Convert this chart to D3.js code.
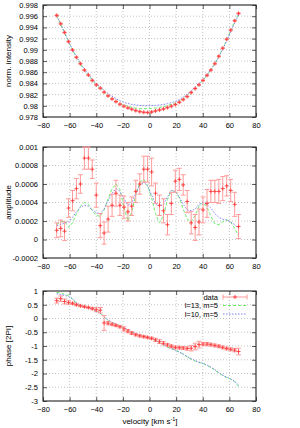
<!DOCTYPE html>
<html><head><meta charset="utf-8">
<script src="https://cdn.jsdelivr.net/npm/d3@7"></script>
<style>body{margin:0;background:#fff}svg{display:block}text{font-family:"Liberation Sans",Arial,sans-serif;fill:#000}</style>
</head><body><svg id="c" width="300" height="428"></svg>
<script>
const velocity = [-69.7,-66.7,-63.8,-60.8,-57.8,-54.9,-51.9,-48.9,-45.9,-43.0,-40.0,-37.0,-34.1,-31.1,-28.1,-25.2,-22.2,-19.2,-16.2,-13.3,-10.3,-7.3,-4.3,-1.4,1.6,4.5,7.5,10.5,13.5,16.4,19.4,22.4,25.3,28.3,31.3,34.3,37.2,40.2,43.2,46.1,49.1,52.1,55.0,58.0,61.0,64.0,66.9];

const intensity = [0.99614,0.99465,0.99309,0.99147,0.98998,0.98866,0.98752,0.98638,0.98549,0.98453,0.98375,0.98315,0.98243,0.98177,0.98123,0.98075,0.98028,0.97992,0.97962,0.97938,0.97914,0.97896,0.97884,0.97880,0.97890,0.97908,0.97926,0.97944,0.97968,0.97992,0.98022,0.98063,0.98111,0.98165,0.98237,0.98309,0.98375,0.98453,0.98543,0.98638,0.98752,0.98884,0.99028,0.99189,0.99351,0.99519,0.99650];
const intensityErr = [0.00012,0.00012,0.00012,0.00012,0.00011,0.00011,0.00011,0.00011,0.00011,0.00011,0.00010,0.00010,0.00010,0.00010,0.00010,0.00010,0.00010,0.00010,0.00010,0.00010,0.00010,0.00010,0.00010,0.00010,0.00010,0.00010,0.00010,0.00010,0.00010,0.00010,0.00010,0.00010,0.00010,0.00010,0.00010,0.00010,0.00011,0.00011,0.00011,0.00011,0.00011,0.00011,0.00011,0.00012,0.00012,0.00012,0.00012];
const intensityL13 = [0.99610,0.99460,0.99305,0.99150,0.99000,0.98865,0.98750,0.98640,0.98550,0.98455,0.98378,0.98318,0.98248,0.98185,0.98133,0.98088,0.98045,0.98015,0.97990,0.97972,0.97958,0.97950,0.97948,0.97948,0.97952,0.97960,0.97970,0.97985,0.98003,0.98025,0.98050,0.98085,0.98128,0.98178,0.98245,0.98313,0.98378,0.98455,0.98545,0.98640,0.98752,0.98880,0.99020,0.99180,0.99340,0.99505,0.99640];
const intensityL10 = [0.99610,0.99460,0.99305,0.99148,0.99002,0.98872,0.98762,0.98652,0.98565,0.98473,0.98398,0.98343,0.98278,0.98220,0.98172,0.98128,0.98088,0.98060,0.98040,0.98025,0.98015,0.98008,0.98004,0.98002,0.98003,0.98007,0.98014,0.98024,0.98038,0.98056,0.98080,0.98112,0.98155,0.98205,0.98270,0.98335,0.98398,0.98470,0.98555,0.98645,0.98752,0.98875,0.99010,0.99160,0.99320,0.99485,0.99620];

const amplitude = [0.00010,0.00012,0.00009,0.00034,0.00042,0.00055,0.00060,0.00088,0.00088,0.00076,0.00048,0.00015,0.00007,0.00022,0.00037,0.00050,0.00037,0.00035,0.00030,0.00036,0.00052,0.00060,0.00076,0.00076,0.00073,0.00050,0.00037,0.00031,0.00016,0.00039,0.00063,0.00065,0.00059,0.00041,0.00018,0.00013,0.00019,0.00032,0.00039,0.00052,0.00052,0.00052,0.00055,0.00058,0.00053,0.00038,0.00014];
const amplitudeErr = [0.00008,0.00009,0.00010,0.00010,0.00011,0.00011,0.00010,0.00012,0.00012,0.00010,0.00013,0.00013,0.00012,0.00014,0.00012,0.00014,0.00011,0.00012,0.00010,0.00010,0.00012,0.00011,0.00014,0.00014,0.00015,0.00011,0.00011,0.00013,0.00011,0.00012,0.00012,0.00012,0.00011,0.00012,0.00012,0.00014,0.00014,0.00014,0.00015,0.00012,0.00012,0.00013,0.00013,0.00011,0.00012,0.00013,0.00013];
const amplitudeL13 = [0.00016,0.00019,0.00020,0.00013,0.00018,0.00028,0.00036,0.00040,0.00038,0.00031,0.00026,0.00025,0.00032,0.00044,0.00055,0.00060,0.00054,0.00035,0.00020,0.00030,0.00048,0.00062,0.00065,0.00058,0.00045,0.00028,0.00018,0.00026,0.00043,0.00053,0.00052,0.00045,0.00033,0.00022,0.00019,0.00026,0.00036,0.00040,0.00035,0.00025,0.00017,0.00016,0.00019,0.00021,0.00019,0.00012,0.00004];
const amplitudeL10 = [0.00015,0.00016,0.00018,0.00019,0.00024,0.00030,0.00035,0.00037,0.00036,0.00032,0.00029,0.00028,0.00033,0.00042,0.00050,0.00055,0.00052,0.00044,0.00037,0.00039,0.00050,0.00059,0.00062,0.00058,0.00048,0.00039,0.00036,0.00038,0.00046,0.00053,0.00052,0.00046,0.00038,0.00032,0.00031,0.00033,0.00038,0.00040,0.00038,0.00034,0.00028,0.00024,0.00022,0.00021,0.00019,0.00016,0.00012];

const phase = [0.65,0.72,0.62,0.58,0.55,0.50,0.46,0.43,0.40,0.36,0.32,0.30,-0.16,-0.17,-0.21,-0.25,-0.30,-0.38,-0.46,-0.53,-0.59,-0.63,-0.66,-0.69,-0.72,-0.78,-0.84,-0.90,-0.96,-1.01,-1.05,-1.06,-1.07,-1.09,-1.08,-1.02,-0.95,-0.93,-0.93,-0.95,-0.98,-1.01,-1.05,-1.09,-1.12,-1.15,-1.20];
const phaseErr = [0.09,0.10,0.09,0.06,0.04,0.03,0.03,0.03,0.03,0.04,0.07,0.10,0.27,0.06,0.04,0.04,0.04,0.08,0.06,0.05,0.04,0.04,0.04,0.04,0.04,0.06,0.07,0.06,0.05,0.05,0.05,0.05,0.05,0.06,0.10,0.12,0.12,0.06,0.06,0.05,0.05,0.05,0.05,0.05,0.05,0.06,0.12];
const phaseL13 = [0.95,0.92,0.88,0.84,0.70,0.54,0.47,0.43,0.39,0.34,0.28,0.20,0.05,-0.08,-0.15,-0.21,-0.27,-0.34,-0.42,-0.50,-0.56,-0.61,-0.65,-0.69,-0.74,-0.80,-0.88,-0.96,-1.04,-1.10,-1.15,-1.22,-1.30,-1.40,-1.48,-1.55,-1.60,-1.64,-1.70,-1.78,-1.88,-1.98,-2.08,-2.15,-2.20,-2.30,-2.47];
const phaseL10 = [0.90,0.87,0.84,0.80,0.72,0.58,0.48,0.43,0.39,0.34,0.28,0.19,0.06,-0.06,-0.14,-0.20,-0.26,-0.33,-0.41,-0.48,-0.55,-0.60,-0.64,-0.68,-0.73,-0.80,-0.87,-0.95,-1.03,-1.09,-1.15,-1.22,-1.29,-1.38,-1.46,-1.53,-1.59,-1.63,-1.69,-1.77,-1.86,-1.97,-2.06,-2.13,-2.20,-2.29,-2.42];

const xTicks = [-80,-60,-40,-20,0,20,40,60,80];
const intensityTicks = [0.978,0.980,0.982,0.984,0.986,0.988,0.990,0.992,0.994,0.996,0.998];
const intensityTickLabels = ["0.978","0.98","0.982","0.984","0.986","0.988","0.99","0.992","0.994","0.996","0.998"];
const amplitudeTicks = [-0.0002,0,0.0002,0.0004,0.0006,0.0008,0.001];
const amplitudeTickLabels = ["-0.0002","0","0.0002","0.0004","0.0006","0.0008","0.001"];
const phaseTicks = [-3,-2.5,-2,-1.5,-1,-0.5,0,0.5,1];
const phaseTickLabels = ["-3","-2.5","-2","-1.5","-1","-0.5","0","0.5","1"];
const seriesNames = ["data","l=13, m=5","l=10, m=5"];

const svg = d3.select("#c");
const L = 43, R = 256;
const x = d3.scaleLinear().domain([-80, 80]).range([L, R]);
const C_ERR = "#ff9a9a", C_PT = "#ff3b3b", C_G = "#66ee66", C_B = "#8080ff";

const panels = [
  {top:5, bottom:117, dom:[0.978,0.998], ticks:intensityTicks, labels:intensityTickLabels, title:"norm. intensity", v:intensity, e:intensityErr, g:intensityL13, b:intensityL10, cw:1.8},
  {top:147, bottom:258, dom:[-0.0002,0.001], ticks:amplitudeTicks, labels:amplitudeTickLabels, title:"amplitude", v:amplitude, e:amplitudeErr, g:amplitudeL13, b:amplitudeL10, cw:2.4},
  {top:291, bottom:401, dom:[-3,1], ticks:phaseTicks, labels:phaseTickLabels, title:"phase [2PI]", v:phase, e:phaseErr, g:phaseL13, b:phaseL10, cw:2.4, legend:true, xlabel:true}
];

panels.forEach(p => {
  const y = d3.scaleLinear().domain(p.dom).range([p.bottom, p.top]);
  const g = svg.append("g");
  // grid
  g.append("g").selectAll("line").data(xTicks.slice(1,-1)).join("line")
    .attr("x1", d => x(d)).attr("x2", d => x(d)).attr("y1", p.top).attr("y2", p.bottom)
    .attr("stroke", "#aaa").attr("stroke-width", 0.7).attr("stroke-dasharray", "1,2");
  g.append("g").selectAll("line").data(p.ticks.slice(1,-1)).join("line")
    .attr("x1", L).attr("x2", R).attr("y1", d => y(d)).attr("y2", d => y(d))
    .attr("stroke", "#aaa").attr("stroke-width", 0.7).attr("stroke-dasharray", "1,2");

  // axes (ticks inward, mirrored)
  const fmt = (d) => p.labels[p.ticks.indexOf(d)];
  const ax = [
    g.append("g").attr("transform", `translate(${L},0)`).call(d3.axisLeft(y).tickValues(p.ticks).tickFormat(fmt).tickSize(-4).tickPadding(5)),
    g.append("g").attr("transform", `translate(${R},0)`).call(d3.axisRight(y).tickValues(p.ticks).tickFormat("").tickSize(-4)),
    g.append("g").attr("transform", `translate(0,${p.bottom})`).call(d3.axisBottom(x).tickValues(xTicks).tickFormat(d3.format("d")).tickSize(-4).tickPadding(6)),
    g.append("g").attr("transform", `translate(0,${p.top})`).call(d3.axisTop(x).tickValues(xTicks).tickFormat("").tickSize(-4))
  ];
  ax.forEach(a => {
    a.select(".domain").remove();
    a.selectAll("line").attr("stroke", "#333").attr("stroke-width", 0.8);
    a.selectAll("text").attr("font-size", 7.5).attr("font-family", '"Liberation Sans",Arial,sans-serif').attr("fill", "#000");
  });
  g.append("rect").attr("x", L).attr("y", p.top).attr("width", R - L).attr("height", p.bottom - p.top)
    .attr("fill", "none").attr("stroke", "#222").attr("stroke-width", 1.1);

  // y title
  g.append("text").attr("transform", `translate(11,${(p.top + p.bottom) / 2}) rotate(-90)`)
    .attr("text-anchor", "middle").attr("font-size", 8).text(p.title);

  // models
  const line = (arr) => d3.line().x((d, i) => x(velocity[i])).y(d => y(d))(arr);
  g.append("path").attr("d", line(p.g)).attr("fill", "none").attr("stroke", C_G).attr("stroke-width", 1).attr("stroke-dasharray", "3,2");
  g.append("path").attr("d", line(p.b)).attr("fill", "none").attr("stroke", C_B).attr("stroke-width", 1).attr("stroke-dasharray", "1.5,1.5");

  // data with error bars
  const pts = g.append("g").selectAll("g").data(p.v).join("g");
  const cw = p.cw;
  pts.append("line").attr("x1", (d, i) => x(velocity[i])).attr("x2", (d, i) => x(velocity[i]))
    .attr("y1", (d, i) => y(d - p.e[i])).attr("y2", (d, i) => y(d + p.e[i])).attr("stroke", C_ERR).attr("stroke-width", 1);
  [-1, 1].forEach(s => {
    pts.append("line").attr("x1", (d, i) => x(velocity[i]) - cw).attr("x2", (d, i) => x(velocity[i]) + cw)
      .attr("y1", (d, i) => y(d + s * p.e[i])).attr("y2", (d, i) => y(d + s * p.e[i])).attr("stroke", C_ERR).attr("stroke-width", 1);
  });
  pts.append("path").attr("d", (d, i) => { const cx = x(velocity[i]), cy = y(d); return `M${cx-2},${cy}H${cx+2}M${cx},${cy-2}V${cy+2}`; })
    .attr("stroke", C_PT).attr("stroke-width", 0.9);

  if (p.legend) {
    const lx1 = 223, lx2 = 247, tx = 218;
    const rows = [297, 305.5, 314];
    seriesNames.forEach((n, k) => {
      g.append("text").attr("x", tx).attr("y", rows[k] + 2.6).attr("text-anchor", "end").attr("font-size", 7.5).text(n);
    });
    const ly = rows[0];
    g.append("line").attr("x1", lx1).attr("x2", lx2).attr("y1", ly).attr("y2", ly).attr("stroke", C_ERR).attr("stroke-width", 1);
    [lx1, lx2].forEach(xx => g.append("line").attr("x1", xx).attr("x2", xx).attr("y1", ly - 2.5).attr("y2", ly + 2.5).attr("stroke", C_ERR).attr("stroke-width", 1));
    const mx = (lx1 + lx2) / 2;
    g.append("path").attr("d", `M${mx-2},${ly}H${mx+2}M${mx},${ly-2}V${ly+2}`).attr("stroke", C_PT).attr("stroke-width", 0.9);
    g.append("line").attr("x1", lx1).attr("x2", lx2).attr("y1", rows[1]).attr("y2", rows[1]).attr("stroke", C_G).attr("stroke-width", 1).attr("stroke-dasharray", "3,2");
    g.append("line").attr("x1", lx1).attr("x2", lx2).attr("y1", rows[2]).attr("y2", rows[2]).attr("stroke", C_B).attr("stroke-width", 1).attr("stroke-dasharray", "1.5,1.5");
  }
  if (p.xlabel) {
    const t = g.append("text").attr("x", 150).attr("y", 424).attr("text-anchor", "middle").attr("font-size", 8);
    t.append("tspan").text("velocity [km s");
    t.append("tspan").attr("dy", -3).attr("font-size", 5.5).text("-1");
    t.append("tspan").attr("dy", 3).text("]");
  }
});
</script></body></html>
